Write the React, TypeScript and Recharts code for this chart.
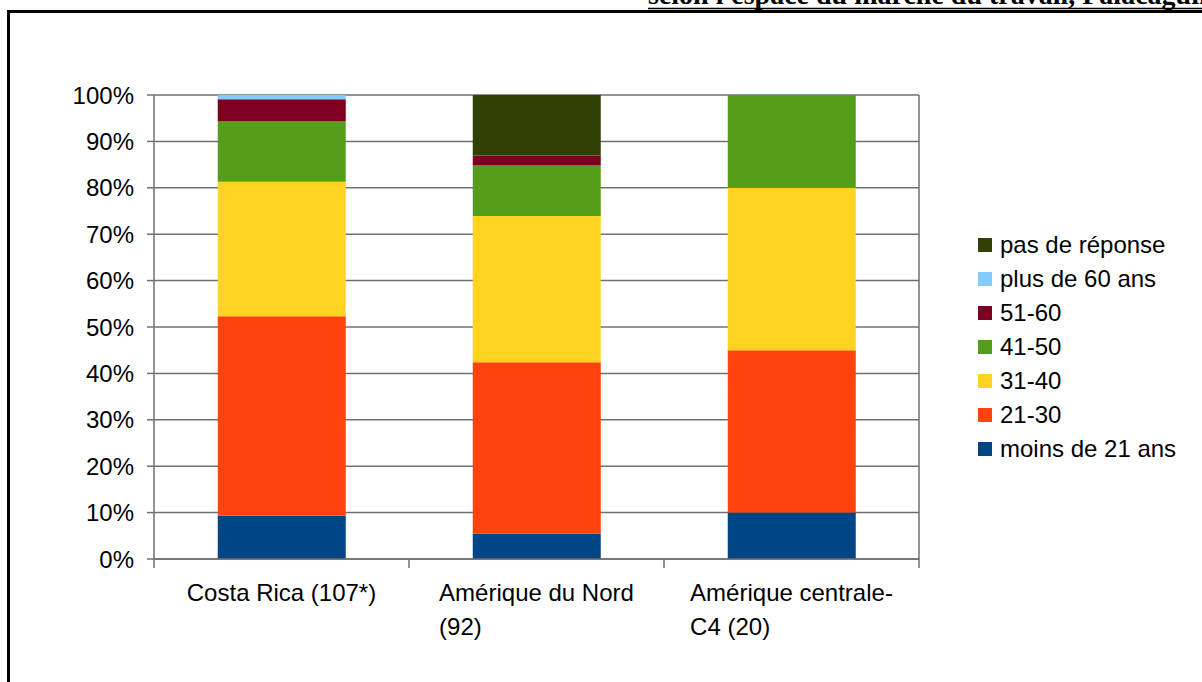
import React from 'react';
import {
  BarChart,
  Bar,
  XAxis,
  YAxis,
  CartesianGrid,
  Legend,
} from 'recharts';

// categories, one entry per bar (label lines as drawn under the axis)
const categories = ['Costa Rica (107*)', 'Amérique du Nord (92)', 'Amérique centrale-C4 (20)'];
const categoryLines = [
  ['Costa Rica (107*)'],
  ['Amérique du Nord', '(92)'],
  ['Amérique centrale-', 'C4 (20)'],
];

// shares in percent, bottom to top
const moins21 = [9.35, 5.43, 10];
const age21_30 = [42.99, 36.96, 35];
const age31_40 = [28.97, 31.52, 35];
const age41_50 = [13.08, 10.87, 20];
const age51_60 = [4.67, 2.17, 0];
const plus60 = [0.93, 0, 0];
const pasReponse = [0, 13.04, 0];

const yTicks = [0, 10, 20, 30, 40, 50, 60, 70, 80, 90, 100];

const series = [
  { key: 'moins21', name: 'moins de 21 ans', values: moins21, color: '#004586' },
  { key: 'a2130', name: '21-30', values: age21_30, color: '#ff420e' },
  { key: 'a3140', name: '31-40', values: age31_40, color: '#ffd320' },
  { key: 'a4150', name: '41-50', values: age41_50, color: '#579d1c' },
  { key: 'a5160', name: '51-60', values: age51_60, color: '#7e0021' },
  { key: 'plus60', name: 'plus de 60 ans', values: plus60, color: '#83caff' },
  { key: 'pasrep', name: 'pas de réponse', values: pasReponse, color: '#314004' },
];

const data = categories.map((cat, i) => {
  const row: any = { cat, idx: i };
  series.forEach((s) => {
    row[s.key] = s.values[i];
  });
  return row;
});

const FONT = '"Liberation Sans", Arial, sans-serif';
const AXIS = '#707070';

const CategoryTick = (props: any) => {
  const { x, y, payload, index } = props;
  const half = payload && payload.offset ? payload.offset : 127.5;
  const lines = categoryLines[index] || [String(payload.value)];
  const last = index === categories.length - 1;
  return (
    <g>
      <line x1={x - half} x2={x - half} y1={y} y2={y + 9} stroke={AXIS} strokeWidth={1.5} />
      {last && <line x1={x + half} x2={x + half} y1={y} y2={y + 9} stroke={AXIS} strokeWidth={1.5} />}
      <foreignObject x={x - half} y={y + 17} width={half * 2} height={90}>
        <div style={{ display: 'flex', justifyContent: 'center' }}>
          <div
            style={{
              textAlign: 'left',
              fontFamily: FONT,
              fontSize: 24,
              lineHeight: '34px',
              color: '#000',
              whiteSpace: 'nowrap',
            }}
          >
            {lines.map((l) => (
              <div key={l}>{l}</div>
            ))}
          </div>
        </div>
      </foreignObject>
    </g>
  );
};

// legend lists the series top-down, as stacked
const LegendList = () => {
  const items = [...series].reverse();
  return (
    <div style={{ fontFamily: FONT, fontSize: 24, color: '#000' }}>
      {items.map((it) => (
        <div key={it.key} style={{ display: 'flex', alignItems: 'center', height: 34 }}>
          <span
            style={{
              display: 'inline-block',
              width: 14,
              height: 14,
              background: it.color,
              marginRight: 8,
            }}
          />
          <span>{it.name}</span>
        </div>
      ))}
    </div>
  );
};

export default function App() {
  return (
    <div
      style={{
        position: 'absolute',
        left: 0,
        top: 0,
        width: 1202,
        height: 682,
        overflow: 'hidden',
        background: '#fff',
      }}
    >
      {/* page frame and the cut-off heading above it */}
      <div
        style={{
          position: 'absolute',
          left: 7,
          top: 10,
          width: 1220,
          height: 700,
          borderLeft: '3px solid #000',
          borderTop: '3px solid #000',
        }}
      />
      <svg width={1202} height={20} style={{ position: 'absolute', left: 0, top: 0 }}>
        <text
          x={648}
          y={4}
          fontFamily='"Liberation Serif", "Times New Roman", serif'
          fontWeight="bold"
          fontSize={28}
          fill="#000"
        >
          selon l'espace du marché du travail, Palacagüina
        </text>
        <line x1={648} x2={1202} y1={8.5} y2={8.5} stroke="#000" strokeWidth={1.5} />
      </svg>

      <div style={{ position: 'absolute', left: 0, top: 0 }}>
        <BarChart
          width={1202}
          height={682}
          data={data}
          margin={{ top: 95, right: 283, left: 74, bottom: 23 }}
          barCategoryGap="25%"
        >
          <CartesianGrid
            stroke={AXIS}
            strokeWidth={1.5}
            vertical
            verticalCoordinatesGenerator={({ offset }: any) => [offset.left + offset.width]}
          />
          <XAxis
            dataKey="cat"
            height={100}
            axisLine={{ stroke: AXIS, strokeWidth: 1.5 }}
            tickLine={false}
            tickSize={0}
            tickMargin={0}
            interval={0}
            tick={<CategoryTick />}
          />
          <YAxis
            width={80}
            domain={[0, 100]}
            ticks={yTicks}
            interval={0}
            allowDataOverflow
            tickFormatter={(v: number) => `${v}%`}
            tick={{ fontSize: 24, fill: '#000', fontFamily: FONT }}
            tickSize={7}
            tickMargin={13}
            axisLine={{ stroke: AXIS, strokeWidth: 1.5 }}
            tickLine={{ stroke: AXIS, strokeWidth: 1.5 }}
          />
          <Legend
            layout="horizontal"
            align="center"
            verticalAlign="middle"
            wrapperStyle={{ left: 978, top: 228, width: 224 }}
            content={<LegendList />}
          />
          {series.map((s) => (
            <Bar
              key={s.key}
              dataKey={s.key}
              name={s.name}
              stackId="a"
              fill={s.color}
              isAnimationActive={false}
            />
          ))}
        </BarChart>
      </div>
    </div>
  );
}
